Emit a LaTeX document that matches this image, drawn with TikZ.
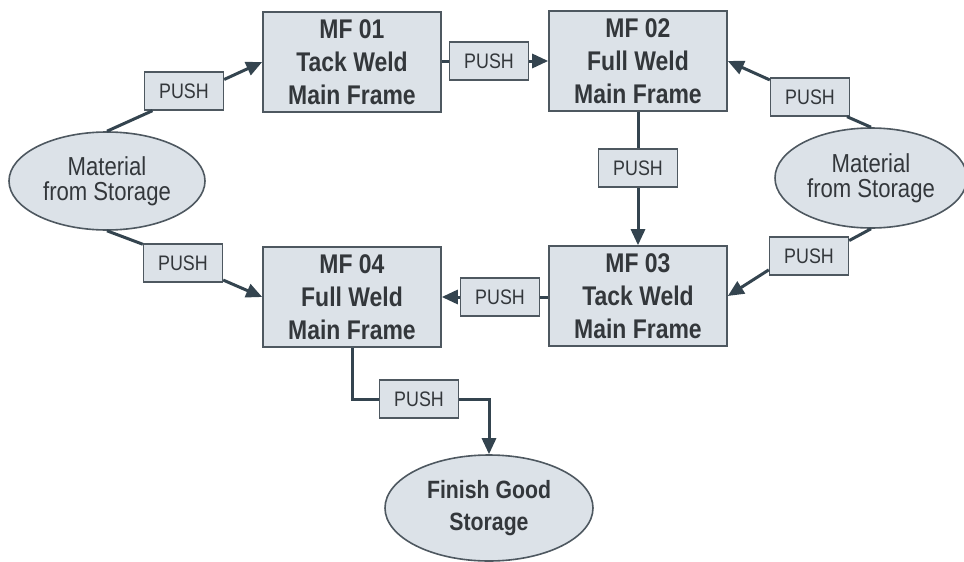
\documentclass[tikz,border=0pt]{standalone}
\usepackage{fontspec}
\usetikzlibrary{shapes.geometric,arrows.meta}
\newfontfamily\flowfont[FakeStretch=0.85]{Liberation Sans}
\definecolor{boxfill}{HTML}{DCE2E8}
\definecolor{boxline}{HTML}{4E5860}
\definecolor{linkcol}{HTML}{34444F}
\definecolor{txt}{HTML}{33373B}
\tikzset{
  stationbox/.style={draw=boxline, line width=1.6pt, fill=boxfill, inner sep=0pt,
    minimum width=178pt, minimum height=100pt, align=center, text=txt,
    font=\flowfont\bfseries\fontsize{27}{33}\selectfont},
  pushbox/.style={draw=boxline, line width=1.4pt, fill=boxfill, inner sep=0pt,
    minimum width=79pt, minimum height=38pt, text=txt,
    font=\flowfont\fontsize{21}{24}\selectfont},
  storebox/.style={ellipse, draw=boxline, line width=1.6pt, fill=boxfill, inner sep=0pt,
    align=center, text=txt},
  link/.style={draw=linkcol, line width=3pt},
  arr/.style={link, -{Triangle[length=16pt,width=14pt]}},
}
\begin{document}
\begin{tikzpicture}[x=1pt,y=-1pt]
\useasboundingbox (0,0) rectangle (964,562);

% work stations
\node[stationbox] (MF01) at (352,62)  {MF 01\\Tack Weld\\Main Frame};
\node[stationbox] (MF02) at (638,61)  {MF 02\\Full Weld\\Main Frame};
\node[stationbox] (MF03) at (638,296) {MF 03\\Tack Weld\\Main Frame};
\node[stationbox] (MF04) at (352,297) {MF 04\\Full Weld\\Main Frame};

% storages
\node[storebox, minimum width=196pt, minimum height=98pt,
  font=\flowfont\fontsize{26}{25}\selectfont] (L) at (107,181) {Material\\from Storage};
\node[storebox, minimum width=192pt, minimum height=100pt,
  font=\flowfont\fontsize{26}{25}\selectfont] (R) at (871,178) {Material\\from Storage};
\node[storebox, minimum width=208pt, minimum height=106pt,
  font=\flowfont\bfseries\fontsize{25}{32}\selectfont] (B) at (489,508) {Finish Good\\Storage};

% push labels
\node[pushbox] (P1) at (184,91)  {PUSH};
\node[pushbox] (P2) at (489,61)  {PUSH};
\node[pushbox] (P3) at (810,97)  {PUSH};
\node[pushbox] (P4) at (638,168) {PUSH};
\node[pushbox] (P5) at (183,263) {PUSH};
\node[pushbox] (P6) at (500,297) {PUSH};
\node[pushbox] (P7) at (809,256) {PUSH};
\node[pushbox] (P8) at (419,399) {PUSH};

% flows
\draw[link] (L.north) -- (P1.212);
\draw[arr]  (P1.16) -- (MF01.west);
\draw[link] (MF01.east |- P2.west) -- (P2.west);
\draw[arr]  (P2.east) -- (P2.east -| MF02.west);
\draw[link] (R.north) -- (P3.-28);
\draw[arr]  (P3.157) -- (MF02.east);
\draw[link] (MF02.south) -- (P4.north);
\draw[arr]  (P4.south) -- (MF03.north);
\draw[link] (R.south) -- (P7.21);
\draw[arr]  (P7.199) -- (MF03.east);
\draw[link] (L.south) -- (P5.155);
\draw[arr]  (P5.-23) -- (MF04.west);
\draw[link] (MF03.west |- P6.east) -- (P6.east);
\draw[arr]  (P6.west) -- (P6.west -| MF04.east);
\draw[link] (MF04.south) |- (P8.west);
\draw[arr]  (P8.east) -| (B.north);
\end{tikzpicture}
\end{document}
